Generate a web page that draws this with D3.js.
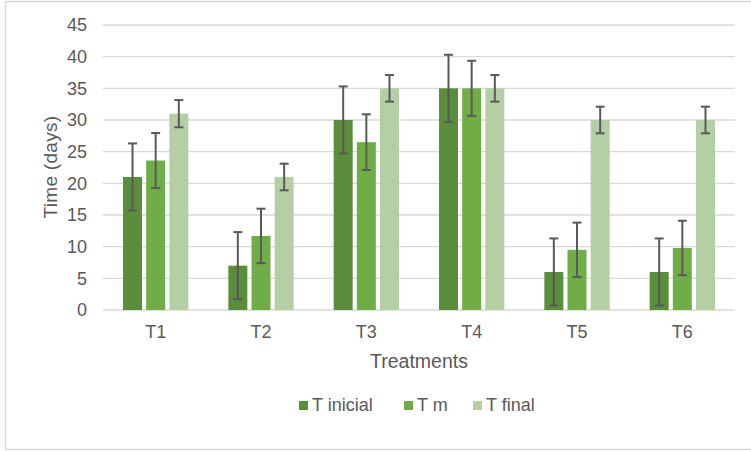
<!DOCTYPE html>
<html>
<head>
<meta charset="utf-8">
<script src="https://cdn.jsdelivr.net/npm/d3@7"></script>
<style>
  html, body { margin: 0; padding: 0; background: #fff; }
  svg { display: block; font-family: "Liberation Sans", Arial, sans-serif; }
</style>
</head>
<body>
<svg id="chart" width="751" height="451"></svg>
<script>
const categories = ["T1", "T2", "T3", "T4", "T5", "T6"];
const seriesNames = ["T inicial", "T m", "T final"];
const tInicial = [21, 7, 30, 35, 6, 6];
const tM = [23.6, 11.7, 26.5, 35, 9.5, 9.8];
const tFinal = [31, 21, 35, 35, 30, 30];
const errInicial = [5.3, 5.3, 5.3, 5.3, 5.3, 5.3];
const errM = [4.35, 4.3, 4.4, 4.35, 4.3, 4.3];
const errFinal = [2.15, 2.1, 2.1, 2.1, 2.1, 2.1];
const yTicks = [0, 5, 10, 15, 20, 25, 30, 35, 40, 45];
const colors = ["#5b8e3a", "#70ad47", "#b5cfa5"];

const values = [tInicial, tM, tFinal];
const errors = [errInicial, errM, errFinal];

const svg = d3.select("#chart");
const plotLeft = 103, plotRight = 735, plotTop = 25, plotBottom = 310;

// chart frame
svg.append("path")
  .attr("d", `M760,1.5 H5.5 V449.5 H760`)
  .attr("fill", "none").attr("stroke", "#d9d9d9").attr("stroke-width", 1.5);

const y = d3.scaleLinear().domain([0, 45]).range([plotBottom, plotTop]);
const x = d3.scaleBand().domain(categories).range([plotLeft, plotRight]).padding(0);
const groupPad = 20;
const xs = d3.scaleBand().domain(seriesNames)
  .range([groupPad, x.bandwidth() - groupPad]).paddingInner(0.18);

// gridlines
svg.append("g").selectAll("line").data(yTicks).join("line")
  .attr("x1", plotLeft).attr("x2", plotRight)
  .attr("y1", d => y(d)).attr("y2", d => y(d))
  .attr("stroke", "#d9d9d9").attr("stroke-width", 1.3);

// y axis labels
const yAxis = d3.axisLeft(y).tickValues(yTicks).tickSize(0).tickPadding(0);
const gy = svg.append("g").attr("transform", `translate(87,0)`).call(yAxis);
gy.select(".domain").remove();
gy.selectAll("text").attr("font-size", 18).attr("fill", "#595959")
  .attr("font-family", "Liberation Sans, Arial, sans-serif");

// x axis labels
const xAxis = d3.axisBottom(x).tickSize(0).tickPadding(0);
const gx = svg.append("g").attr("transform", `translate(0,${plotBottom})`).call(xAxis);
gx.select(".domain").remove();
gx.selectAll("text").attr("font-size", 18).attr("fill", "#595959")
  .attr("font-family", "Liberation Sans, Arial, sans-serif")
  .attr("dy", null).attr("y", 28);

// bars
const flat = [];
categories.forEach((c, i) => {
  seriesNames.forEach((s, j) => {
    flat.push({ c, s, j, v: values[j][i], e: errors[j][i] });
  });
});

const bars = svg.append("g");
bars.selectAll("rect").data(flat).join("rect")
  .attr("x", d => x(d.c) + xs(d.s))
  .attr("width", xs.bandwidth())
  .attr("y", d => y(d.v))
  .attr("height", d => y(0) - y(d.v))
  .attr("fill", d => colors[d.j]);

// error bars
const eg = svg.append("g").attr("stroke", "#595959").attr("stroke-width", 2);
const cx = d => x(d.c) + xs(d.s) + xs.bandwidth() / 2;
eg.selectAll("line.v").data(flat).join("line").attr("class", "v")
  .attr("x1", cx).attr("x2", cx)
  .attr("y1", d => y(d.v + d.e)).attr("y2", d => y(Math.max(0, d.v - d.e)));
eg.selectAll("line.t").data(flat).join("line").attr("class", "t")
  .attr("x1", d => cx(d) - 4.5).attr("x2", d => cx(d) + 4.5)
  .attr("y1", d => y(d.v + d.e)).attr("y2", d => y(d.v + d.e));
eg.selectAll("line.b").data(flat).join("line").attr("class", "b")
  .attr("x1", d => cx(d) - 4.5).attr("x2", d => cx(d) + 4.5)
  .attr("y1", d => y(Math.max(0, d.v - d.e))).attr("y2", d => y(Math.max(0, d.v - d.e)));

// axis titles
svg.append("text").attr("transform", "translate(57,167) rotate(-90)")
  .attr("text-anchor", "middle").attr("font-size", 19).attr("fill", "#595959")
  .attr("letter-spacing", 0.3)
  .text("Time (days)");
svg.append("text").attr("x", (plotLeft + plotRight) / 2).attr("y", 368)
  .attr("text-anchor", "middle").attr("font-size", 19.5).attr("fill", "#595959")
  .text("Treatments");

// legend
const legendX = [299, 404, 473];
const lg = svg.append("g");
seriesNames.forEach((s, j) => {
  lg.append("rect").attr("x", legendX[j]).attr("y", 401).attr("width", 9).attr("height", 9)
    .attr("fill", colors[j]);
  lg.append("text").attr("x", legendX[j] + 13).attr("y", 411)
    .attr("font-size", 18).attr("fill", "#595959").text(s);
});
</script>
</body>
</html>
